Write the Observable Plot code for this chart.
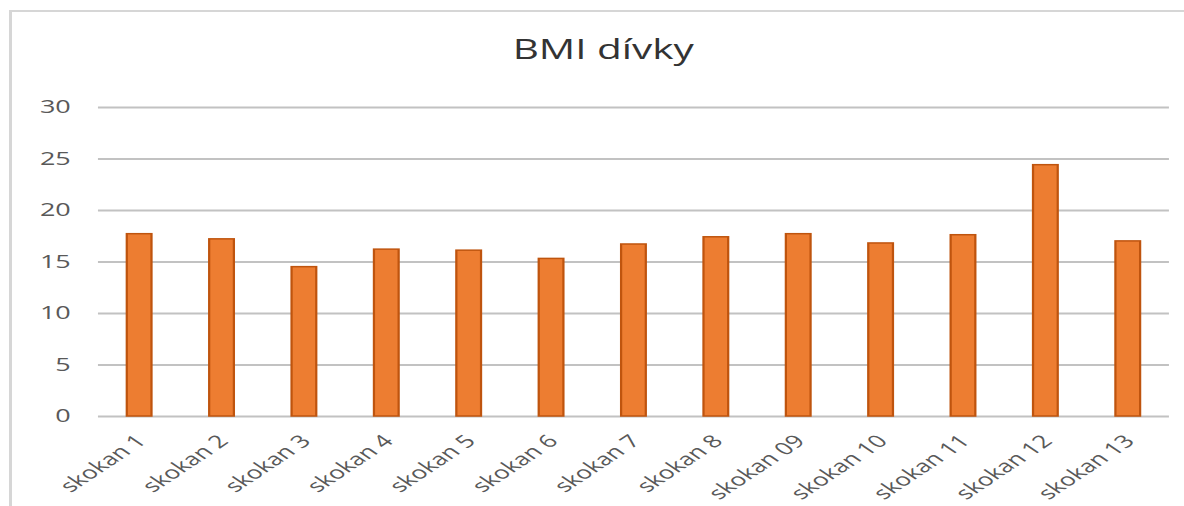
<!DOCTYPE html>
<html>
<head>
<meta charset="utf-8">
<script src="https://cdn.jsdelivr.net/npm/d3@7"></script>
<script src="https://cdn.jsdelivr.net/npm/@observablehq/plot@0.6"></script>
<style>
  html, body { margin: 0; padding: 0; background: #fff; overflow: hidden; width: 1184px; height: 506px; }
  /* the chart is laid out at a narrower width and widened horizontally */
  #stage { position: absolute; left: 0; top: 0; width: 789px; height: 506px;
           transform: scaleX(1.5); transform-origin: 0 0; font-family: "Open Sans", sans-serif; }
  #frame { position: absolute; left: 5.5px; top: 10px; width: 800px; height: 530px;
           border: 2px solid #d6d6d6; box-sizing: border-box; }
  #title { position: absolute; left: 6.7px; width: 791px; top: 31px; text-align: center;
           font-size: 27px; line-height: 36px; color: #333; }
  #chart { position: absolute; left: 0; top: 68px; }
</style>
</head>
<body>
<div id="stage">
  <div id="frame"></div>
  <div id="title">BMI dívky</div>
  <div id="chart"></div>
</div>
<script>
// Jumpers (girls) and their BMI
const categories = ["skokan 1", "skokan 2", "skokan 3", "skokan 4", "skokan 5", "skokan 6", "skokan 7",
                    "skokan 8", "skokan 09", "skokan 10", "skokan 11", "skokan 12", "skokan 13"];
const bmi = [17.7, 17.2, 14.5, 16.2, 16.1, 15.3, 16.7, 17.4, 17.7, 16.8, 17.6, 24.4, 17.0];
const yTicks = [0, 5, 10, 15, 20, 25, 30];

const data = categories.map((name, i) => ({name, value: bmi[i]}));

const chart = Plot.plot({
  width: 789,
  height: 438,
  marginTop: 39,
  marginBottom: 90,
  marginLeft: 65.3,
  marginRight: 9.7,
  style: {fontFamily: '"Open Sans", sans-serif', fontSize: "18px", color: "#595959",
          background: "transparent", overflow: "visible"},
  x: {domain: categories, paddingInner: 0.7, paddingOuter: 0.35, round: false, label: null},
  y: {domain: [0, 30], label: null},
  marks: [
    Plot.ruleY(yTicks, {stroke: "#c2c2c2", strokeWidth: 2}),
    Plot.barY(data, {x: "name", y: "value", fill: "#ED7D31", stroke: "#BF540E", strokeWidth: 1.5}),
    Plot.axisY(yTicks, {tickSize: 0, tickPadding: 18.6, fill: "#595959", label: null}),
    Plot.axisX({tickSize: 0, tickRotate: -45, textAnchor: "end", fontSize: 17.5, dx: 1, dy: 10,
                fill: "#595959", label: null})
  ]
});
document.getElementById("chart").appendChild(chart);
</script>
</body>
</html>
